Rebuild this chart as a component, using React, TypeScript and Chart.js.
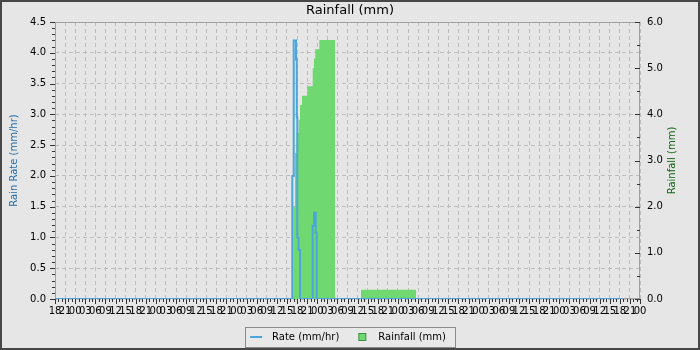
import React, { useEffect, useRef } from 'react';
import { Chart, registerables } from 'chart.js';

Chart.register(...registerables);

// ---- texts ----
const CHART_TITLE = 'Rainfall (mm)';
const RATE_LABEL = 'Rate (mm/hr)';
const RAIN_LABEL = 'Rainfall (mm)';
const LEFT_AXIS_TITLE = 'Rain Rate (mm/hr)';
const RIGHT_AXIS_TITLE = 'Rainfall (mm)';

// ---- x axis: hours counted from the first tick (18:00) ----
const X_START_HOUR = 18;
const X_SPAN_HOURS = 174;
const X_LABEL_STEP = 3;

// ---- rain rate (mm/hr), step series: value holds from its hour to the next ----
const RATE_HOURS = [0, 70.58, 71.0, 71.68, 71.92, 72.07, 72.43, 72.87, 76.65, 77.04, 77.54, 77.84, 168.65];
const RATE_VALUES = [0, 2.0, 4.2, 3.89, 2.95, 1.0, 0.8, 0, 1.19, 1.4, 1.08, 0, 0];

// ---- rainfall (mm), step series ----
const RAIN_HOURS = [0, 70.49, 70.88, 71.39, 71.89, 72.49, 72.87, 73.47, 75.05, 76.65, 77.04, 77.42, 78.61, 83.28, 91.02, 107.38, 168.65];
const RAIN_VALUES = [0, 0.07, 2.0, 3.16, 3.6, 3.88, 4.2, 4.4, 4.61, 5.0, 5.21, 5.41, 5.61, 0, 0.2, 0, 0];

// ---- y axes ----
const LEFT_MAX = 4.5;
const LEFT_MAJOR = 0.5;
const LEFT_MINOR = 0.1;
const RIGHT_MAX = 6;
const RIGHT_MAJOR = 1;
const RIGHT_MINOR = 0.5;

// ---- styles ----
const FONT = '"DejaVu Sans", sans-serif';
const BG = '#e6e6e6';
const FRAME = '#474747';
const PLOT_BORDER = '#a0a0a0';
const GRID = '#bdbdbd';
const TICK = '#333333';
const TEXT = '#000000';
const RATE_COLOR = '#4aa6dc';
const RAIN_COLOR = '#70d870';
const RAIN_BORDER = '#3f8f3f';
const LEFT_TITLE_COLOR = '#246ea8';
const RIGHT_TITLE_COLOR = '#146414';
const LEGEND_BG = '#e8e8e8';
const LEGEND_BORDER = '#8a8a8a';
const MARKER_W = 18;

const isMult = (v: number, step: number) => Math.abs(v / step - Math.round(v / step)) < 1e-6;

const framePlugin = {
  id: 'frame',
  beforeDraw(chart: any) {
    const { ctx, width, height } = chart;
    ctx.save();
    ctx.fillStyle = BG;
    ctx.fillRect(0, 0, width, height);
    ctx.strokeStyle = FRAME;
    ctx.lineWidth = 2;
    ctx.strokeRect(1, 1, width - 2, height - 2);
    const lg = chart.legend;
    if (lg && lg.legendHitBoxes && lg.legendHitBoxes.length) {
      const hb = lg.legendHitBoxes;
      const first = hb[0];
      const last = hb[hb.length - 1];
      const x0 = Math.round(first.left - 4) + 0.5;
      const x1 = Math.round(last.left + last.width + 9) + 0.5;
      const y0 = Math.round(first.top - 5) + 0.5;
      const y1 = Math.round(first.top + first.height + 5) + 0.5;
      ctx.fillStyle = LEGEND_BG;
      ctx.fillRect(x0, y0, x1 - x0, y1 - y0);
      ctx.strokeStyle = LEGEND_BORDER;
      ctx.lineWidth = 1;
      ctx.strokeRect(x0, y0, x1 - x0, y1 - y0);
    }
    ctx.restore();
  },
  beforeDatasetsDraw(chart: any) {
    const { ctx, chartArea: a } = chart;
    ctx.save();
    ctx.strokeStyle = PLOT_BORDER;
    ctx.lineWidth = 1;
    ctx.strokeRect(Math.round(a.left) + 0.5, Math.round(a.top) + 0.5, Math.round(a.right - a.left) - 1, Math.round(a.bottom - a.top) - 1);
    ctx.restore();
  },
  afterDraw(chart: any) {
    const { ctx, chartArea: a, scales } = chart;
    ctx.save();
    ctx.strokeStyle = TICK;
    ctx.lineWidth = 1;
    ctx.beginPath();
    const bottom = Math.round(a.bottom);
    for (const t of scales.x.ticks) {
      const px = Math.round(scales.x.getPixelForValue(t.value)) + 0.5;
      const len = isMult(t.value, X_LABEL_STEP) ? 5 : 3;
      ctx.moveTo(px, bottom);
      ctx.lineTo(px, bottom + len);
    }
    const left = Math.round(a.left);
    for (const t of scales.y.ticks) {
      const py = Math.round(scales.y.getPixelForValue(t.value)) + 0.5;
      const len = isMult(t.value, LEFT_MAJOR) ? 5 : 3;
      ctx.moveTo(left - len, py);
      ctx.lineTo(left, py);
    }
    const right = Math.round(a.right);
    for (const t of scales.y1.ticks) {
      const py = Math.round(scales.y1.getPixelForValue(t.value)) + 0.5;
      const len = isMult(t.value, RIGHT_MAJOR) ? 5 : 3;
      ctx.moveTo(right - len, py);
      ctx.lineTo(right, py);
    }
    ctx.stroke();
    // right axis title, reading bottom to top
    ctx.translate(a.right + 32, (a.top + a.bottom) / 2);
    ctx.rotate(-Math.PI / 2);
    ctx.font = `10px ${FONT}`;
    ctx.fillStyle = RIGHT_TITLE_COLOR;
    ctx.textAlign = 'center';
    ctx.textBaseline = 'middle';
    ctx.fillText(RIGHT_AXIS_TITLE, 0, 0);
    ctx.restore();
  },
};

export default function App() {
  const ref = useRef<HTMLCanvasElement>(null);
  useEffect(() => {
    const canvas = ref.current;
    if (!canvas) return;

    // legend markers
    const rateMark = document.createElement('canvas');
    rateMark.width = MARKER_W;
    rateMark.height = 2;
    const rctx = rateMark.getContext('2d')!;
    rctx.fillStyle = RATE_COLOR;
    rctx.fillRect(1, 0, 12, 2);

    const rainMark = document.createElement('canvas');
    rainMark.width = MARKER_W;
    rainMark.height = 8;
    const sctx = rainMark.getContext('2d')!;
    sctx.fillStyle = RAIN_BORDER;
    sctx.fillRect(3, 0, 8, 8);
    sctx.fillStyle = RAIN_COLOR;
    sctx.fillRect(4, 1, 6, 6);

    const rateData = RATE_HOURS.map((h, i) => ({ x: h, y: RATE_VALUES[i] }));
    const rainData = RAIN_HOURS.map((h, i) => ({ x: h, y: RAIN_VALUES[i] }));

    const chart = new Chart(canvas, {
      type: 'line',
      data: {
        datasets: [
          {
            label: RATE_LABEL,
            data: rateData,
            yAxisID: 'y',
            stepped: true,
            borderColor: RATE_COLOR,
            borderWidth: 2,
            pointRadius: 0,
            fill: false,
          },
          {
            label: RAIN_LABEL,
            data: rainData,
            yAxisID: 'y1',
            stepped: true,
            borderColor: 'rgba(0,0,0,0)',
            borderWidth: 1,
            backgroundColor: RAIN_COLOR,
            pointRadius: 0,
            fill: 'origin',
          },
        ],
      },
      options: {
        animation: false,
        responsive: false,
        devicePixelRatio: 1,
        layout: { padding: { left: 0, right: 0, top: 0, bottom: -2 } },
        font: { family: FONT },
        plugins: {
          title: {
            display: true,
            text: CHART_TITLE,
            color: TEXT,
            font: { family: FONT, size: 13, weight: 'normal' },
            padding: { top: 2.5, bottom: 3.9 },
          },
          legend: {
            position: 'bottom',
            fullSize: false,
            labels: {
              usePointStyle: true,
              pointStyleWidth: MARKER_W,
              padding: 16,
              color: TEXT,
              font: { family: FONT, size: 10 },
              generateLabels: () => [
                { text: RATE_LABEL, fillStyle: RATE_COLOR, strokeStyle: RATE_COLOR, lineWidth: 2, pointStyle: rateMark, hidden: false, datasetIndex: 0, fontColor: TEXT },
                { text: RAIN_LABEL, fillStyle: RAIN_COLOR, strokeStyle: RAIN_BORDER, lineWidth: 1, pointStyle: rainMark, hidden: false, datasetIndex: 1, fontColor: TEXT },
              ] as any,
            },
          },
          tooltip: { enabled: false },
        },
        scales: {
          x: {
            type: 'linear',
            min: 0,
            max: X_SPAN_HOURS,
            grid: {
              color: (c: any) => (c.tick && isMult(c.tick.value, X_LABEL_STEP) ? GRID : 'rgba(0,0,0,0)'),
              tickColor: 'rgba(0,0,0,0)',
              tickLength: 5,
            },
            border: { display: false, dash: [4, 3] },
            ticks: {
              stepSize: 1,
              autoSkip: false,
              maxRotation: 0,
              minRotation: 0,
              padding: 1,
              color: TEXT,
              font: { family: FONT, size: 10 },
              callback: (value: any) => {
                const v = Number(value);
                if (!isMult(v, X_LABEL_STEP)) return '';
                const h = (X_START_HOUR + Math.round(v)) % 24;
                return String(h).padStart(2, '0');
              },
            },
            afterFit: (s: any) => {
              s.height = 17;
            },
          },
          y: {
            type: 'linear',
            position: 'left',
            min: 0,
            max: LEFT_MAX,
            grid: {
              color: (c: any) => (c.tick && isMult(c.tick.value, LEFT_MAJOR) ? GRID : 'rgba(0,0,0,0)'),
              tickColor: 'rgba(0,0,0,0)',
              tickLength: 5,
            },
            border: { display: false, dash: [4, 3] },
            ticks: {
              stepSize: LEFT_MINOR,
              autoSkip: false,
              padding: 4,
              color: TEXT,
              font: { family: FONT, size: 10 },
              callback: (value: any) => {
                const v = Number(value);
                return isMult(v, LEFT_MAJOR) ? v.toFixed(1) : '';
              },
            },
            title: {
              display: true,
              text: LEFT_AXIS_TITLE,
              color: LEFT_TITLE_COLOR,
              font: { family: FONT, size: 10 },
              padding: { top: 8.5, bottom: 0 },
            },
            afterFit: (s: any) => {
              s.width = 55;
            },
          },
          y1: {
            type: 'linear',
            position: 'right',
            min: 0,
            max: RIGHT_MAX,
            grid: { drawOnChartArea: false, drawTicks: false },
            border: { display: false },
            ticks: {
              stepSize: RIGHT_MINOR,
              autoSkip: false,
              padding: 7,
              color: TEXT,
              font: { family: FONT, size: 10 },
              callback: (value: any) => {
                const v = Number(value);
                return isMult(v, RIGHT_MAJOR) ? v.toFixed(1) : '';
              },
            },
            afterFit: (s: any) => {
              s.width = 60;
            },
          },
        },
      },
      plugins: [framePlugin],
    } as any);
    return () => chart.destroy();
  }, []);

  return (
    <div style={{ position: 'fixed', left: 0, top: 0, width: 700, height: 350 }}>
      <canvas ref={ref} width={700} height={350} style={{ display: 'block' }} />
    </div>
  );
}
